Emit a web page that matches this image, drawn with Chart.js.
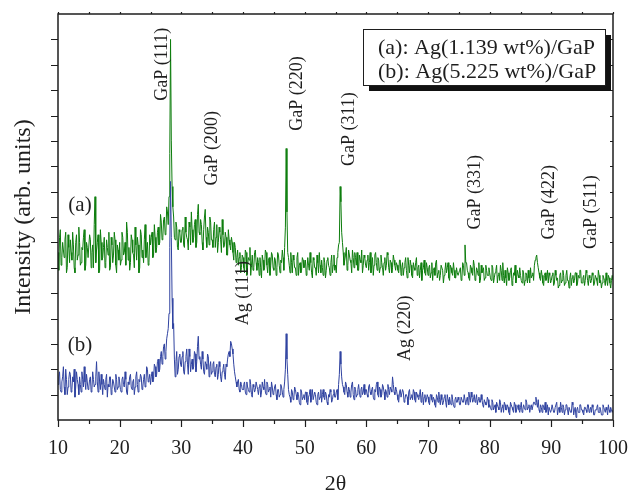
<!DOCTYPE html>
<html>
<head>
<meta charset="utf-8">
<title>XRD Ag/GaP</title>
<script src="https://cdn.jsdelivr.net/npm/chart.js@4.4.1/dist/chart.umd.min.js"></script>
<style>
  html, body { margin: 0; padding: 0; background: #fff; }
  canvas { display: block; }
</style>
</head>
<body>
<canvas id="xrdChart" width="630" height="492"></canvas>
<script>
// 2θ scan: 10° to 100°. Main readings every 0.25°, plus the in-between
// readings (10.125°, 10.375°, ...) kept in the *Mid arrays.
const angleStart = 10;
const angleStep = 0.25;

// (a) Ag(1.139 wt%)/GaP, 20 readings per row (5° per row)
const seriesA = [
  66, 72, 61, 70, 64, 74, 60, 68, 71, 63, 69, 58, 73, 65, 70, 62, 67, 75, 61, 68,
  64, 71, 66, 60, 88, 67, 73, 59, 70, 64, 72, 62, 68, 74, 60, 69, 65, 71, 58, 67,
  70, 63, 72, 66, 61, 74, 68, 62, 71, 65, 76, 63, 69, 60, 73, 67, 71, 64, 70, 62,
  69, 74, 65, 72, 68, 76, 70, 78, 72, 80, 74, 82, 88, 150, 92, 80, 71, 76, 67, 74,
  70, 76, 68, 74, 71, 78, 69, 75, 72, 79, 70, 85, 73, 77, 67, 80, 72, 76, 69, 78,
  71, 75, 68, 77, 70, 74, 66, 73, 69, 72, 65, 71, 67, 70, 63, 68, 64, 61, 66, 60,
  64, 58, 66, 61, 63, 57, 65, 60, 67, 59, 62, 64, 56, 63, 60, 66, 58, 64, 61, 65,
  59, 63, 60, 65, 58, 62, 64, 68, 107, 66, 61, 66, 58, 63, 60, 64, 57, 62, 59, 63,
  61, 57, 64, 59, 62, 56, 63, 60, 65, 58, 61, 63, 57, 62, 59, 64, 60, 62, 58, 65,
  61, 64, 69, 92, 74, 66, 63, 68, 61, 65, 62, 67, 60, 64, 66, 59, 63, 67, 61, 64,
  60, 65, 62, 58, 64, 61, 66, 59, 63, 60, 62, 57, 64, 61, 65, 58, 62, 60, 63, 59,
  61, 58, 63, 60, 57, 62, 59, 64, 58, 61, 56, 60, 62, 57, 61, 59, 55, 60, 58, 62,
  57, 61, 58, 55, 60, 62, 56, 59, 57, 61, 54, 59, 58, 62, 55, 60, 57, 59, 56, 58,
  57, 60, 56, 61, 69, 62, 58, 55, 60, 57, 61, 56, 59, 62, 55, 58, 60, 56, 59, 57,
  58, 55, 60, 56, 59, 54, 58, 61, 55, 57, 59, 53, 58, 56, 60, 55, 57, 54, 59, 56,
  57, 54, 58, 55, 57, 59, 54, 56, 58, 61, 64, 62, 58, 55, 57, 53, 58, 56, 54, 57,
  55, 58, 54, 57, 56, 53, 58, 55, 57, 54, 59, 55, 56, 53, 57, 55, 58, 54, 56, 59,
  54, 57, 55, 58, 53, 56, 55, 57, 54, 56, 53, 57, 55, 54, 56, 53, 55, 57, 54, 55,
  55
];
const seriesAMid = [
  59, 75, 64, 67, 71, 58, 73, 62, 66, 74, 60, 70, 63, 76, 61, 68, 72, 59, 70, 64,
  73, 60, 69, 77, 62, 70, 58, 75, 63, 68, 60, 71, 65, 59, 72, 62, 74, 61, 69, 63,
  61, 74, 65, 70, 78, 63, 59, 73, 66, 60, 69, 72, 58, 75, 64, 62, 77, 67, 61, 73,
  72, 64, 77, 66, 74, 69, 81, 71, 79, 73, 84, 77, 105, 110, 84, 72, 78, 68, 75, 70,
  75, 69, 80, 72, 67, 76, 82, 70, 77, 68, 81, 74, 79, 70, 75, 83, 68, 74, 80, 71,
  68, 78, 72, 66, 76, 71, 79, 68, 74, 65, 75, 69, 72, 66, 70, 62, 67, 64, 58, 65,
  60, 67, 57, 64, 68, 61, 59, 66, 62, 64, 57, 60, 65, 59, 67, 61, 63, 57, 66, 60,
  64, 57, 66, 61, 63, 67, 59, 76, 82, 64, 58, 62, 65, 60, 57, 66, 61, 58, 64, 60,
  63, 59, 61, 66, 58, 64, 60, 57, 62, 66, 58, 60, 64, 56, 63, 61, 57, 65, 61, 59,
  58, 66, 70, 86, 70, 61, 65, 59, 67, 63, 58, 64, 66, 61, 59, 65, 62, 58, 65, 61,
  63, 59, 66, 61, 57, 65, 62, 64, 58, 65, 60, 62, 59, 66, 60, 63, 58, 65, 61, 62,
  59, 63, 57, 62, 60, 64, 56, 61, 63, 57, 62, 59, 64, 60, 56, 62, 59, 63, 57, 60,
  60, 56, 62, 59, 57, 63, 58, 55, 61, 59, 57, 62, 60, 56, 61, 58, 62, 56, 60, 57,
  59, 55, 62, 57, 62, 59, 56, 61, 58, 63, 55, 60, 57, 54, 61, 59, 55, 61, 57, 60,
  56, 61, 54, 58, 61, 57, 55, 59, 62, 54, 56, 60, 55, 59, 53, 58, 61, 56, 57, 60,
  55, 59, 53, 58, 54, 56, 60, 57, 55, 63, 65, 60, 56, 59, 54, 57, 55, 59, 58, 54,
  57, 53, 59, 55, 52, 57, 54, 59, 53, 57, 55, 52, 58, 56, 54, 58, 53, 57, 59, 54,
  56, 53, 59, 55, 57, 54, 58, 53, 57, 55, 59, 54, 52, 57, 55, 58, 53, 56, 52, 57
];

// (b) Ag(5.225 wt%)/GaP
const seriesB = [
  14, 19, 11, 17, 13, 20, 10, 16, 18, 12, 15, 9, 19, 14, 17, 11, 16, 21, 12, 15,
  13, 17, 12, 16, 14, 23, 11, 15, 18, 10, 14, 16, 9, 13, 17, 12, 15, 11, 16, 13,
  15, 11, 17, 13, 16, 10, 14, 18, 12, 16, 13, 19, 11, 15, 17, 13, 18, 14, 20, 16,
  14, 19, 16, 21, 18, 24, 20, 27, 25, 30, 27, 34, 42, 94, 48, 38, 17, 27, 20, 26,
  21, 27, 18, 25, 22, 28, 19, 24, 21, 26, 23, 33, 25, 20, 24, 18, 22, 26, 17, 23,
  19, 23, 17, 22, 18, 21, 15, 20, 18, 22, 24, 27, 31, 28, 22, 17, 13, 16, 11, 14,
  12, 15, 10, 13, 11, 14, 9, 13, 12, 15, 10, 14, 11, 13, 16, 10, 14, 12, 9, 13,
  11, 14, 8, 12, 10, 13, 9, 15, 34, 18, 10, 7, 11, 9, 12, 8, 10, 6, 11, 9,
  8, 11, 6, 10, 7, 12, 8, 10, 6, 11, 9, 7, 12, 8, 10, 6, 9, 11, 8, 12,
  9, 12, 14, 27, 17, 13, 10, 14, 9, 12, 11, 15, 8, 12, 10, 14, 9, 13, 11, 10,
  12, 9, 14, 10, 13, 8, 11, 15, 9, 12, 10, 13, 8, 11, 14, 10, 12, 17, 11, 13,
  10, 7, 12, 9, 11, 8, 10, 6, 12, 9, 8, 11, 7, 10, 8, 12, 9, 6, 10, 8,
  9, 6, 10, 7, 8, 5, 9, 11, 6, 8, 7, 10, 5, 8, 9, 6, 8, 5, 9, 7,
  8, 6, 9, 7, 10, 8, 6, 9, 11, 7, 10, 8, 6, 9, 7, 8, 5, 7, 6, 8,
  6, 4, 7, 5, 3, 6, 4, 7, 5, 3, 6, 4, 5, 2, 6, 4, 7, 3, 5, 4,
  5, 3, 6, 4, 7, 5, 3, 6, 4, 7, 9, 5, 4, 6, 3, 5, 7, 4, 2, 5,
  4, 6, 3, 5, 2, 5, 7, 3, 5, 4, 6, 2, 5, 3, 6, 4, 1, 5, 3, 6,
  4, 2, 5, 3, 6, 4, 3, 5, 2, 4, 6, 3, 4, 2, 5, 3, 4, 6, 3, 4,
  4
];
const seriesBMid = [
  17, 12, 15, 21, 10, 16, 13, 19, 11, 17, 20, 13, 16, 10, 14, 19, 13, 15, 18, 12,
  16, 11, 19, 13, 17, 15, 19, 12, 14, 16, 12, 18, 14, 17, 10, 16, 13, 18, 12, 17,
  12, 16, 14, 19, 11, 15, 17, 13, 15, 10, 17, 14, 16, 18, 12, 16, 13, 21, 15, 18,
  17, 15, 22, 17, 23, 19, 25, 22, 29, 24, 32, 36, 68, 72, 36, 24, 23, 18, 25, 22,
  25, 19, 23, 28, 18, 25, 22, 20, 27, 19, 29, 24, 22, 27, 19, 23, 20, 25, 21, 18,
  22, 18, 21, 16, 23, 17, 19, 22, 16, 21, 26, 25, 30, 26, 19, 15, 15, 12, 15, 12,
  14, 11, 15, 12, 16, 10, 14, 11, 15, 12, 13, 9, 15, 12, 11, 15, 11, 13, 15, 10,
  13, 10, 12, 9, 14, 11, 12, 20, 24, 12, 9, 12, 8, 13, 10, 11, 7, 12, 8, 10,
  11, 7, 9, 12, 9, 8, 11, 7, 10, 8, 12, 10, 9, 11, 7, 10, 12, 7, 10, 9,
  11, 8, 18, 22, 14, 11, 15, 11, 13, 9, 14, 10, 13, 9, 12, 11, 12, 10, 14, 12,
  10, 13, 11, 12, 9, 12, 14, 10, 13, 9, 14, 11, 12, 9, 12, 13, 11, 14, 10, 12,
  8, 11, 9, 12, 7, 10, 9, 11, 8, 10, 12, 8, 11, 9, 10, 7, 11, 9, 7, 10,
  7, 10, 8, 9, 6, 10, 7, 8, 10, 6, 9, 7, 10, 6, 7, 10, 6, 8, 7, 9,
  6, 9, 7, 10, 6, 9, 11, 7, 9, 8, 7, 10, 8, 7, 10, 6, 8, 6, 9, 5,
  5, 8, 4, 6, 7, 5, 8, 3, 6, 7, 4, 6, 3, 7, 5, 3, 6, 4, 6, 3,
  7, 4, 5, 8, 4, 6, 5, 4, 7, 6, 7, 8, 3, 5, 6, 4, 3, 6, 5, 3,
  6, 3, 5, 7, 4, 3, 5, 6, 2, 6, 4, 5, 3, 7, 2, 5, 4, 3, 6, 4,
  3, 5, 4, 6, 3, 5, 6, 2, 4, 5, 3, 5, 2, 6, 4, 5, 2, 4, 5, 3
];

// x tick labels
const xTicks = [10, 20, 30, 40, 50, 60, 70, 80, 90, 100];

// reflection labels: text, 2θ position, height (data units) of text centre
const peakNames = ["GaP (111)", "GaP (200)", "GaP (220)", "GaP (311)", "GaP (331)", "GaP (422)", "GaP (511)", "Ag (111)", "Ag (220)"];
const peakAngles = [26.86, 34.97, 48.76, 57.19, 77.62, 89.62, 96.43, 40.0, 66.27];
const peakLabelY = [140.2, 107.1, 128.7, 114.6, 89.8, 85.8, 81.9, 50.0, 36.2];

const legendLines = ["(a): Ag(1.139 wt%)/GaP", "(b): Ag(5.225 wt%)/GaP"];

const serif = "'Liberation Serif', 'Times New Roman', serif";
const ink = "#1e1e1e";

// weave the main and in-between readings into one {x, y} list
function toPoints(main, mid) {
  const pts = [];
  main.forEach((v, i) => {
    const x = angleStart + i * angleStep;
    pts.push({ x: x, y: v });
    if (i < mid.length) pts.push({ x: x + angleStep / 2, y: mid[i] });
  });
  return pts;
}

// frame, tick marks, peak names, curve tags and the boxed key
const decorations = {
  id: "decorations",
  afterDraw(chart) {
    const { ctx, chartArea: a, scales } = chart;
    const xs = scales.x, ys = scales.y;
    ctx.save();
    ctx.strokeStyle = ink;
    ctx.lineWidth = 1.5;
    ctx.strokeRect(a.left, a.top, a.right - a.left, a.bottom - a.top);

    ctx.lineWidth = 1.2;
    ctx.beginPath();
    for (let t = 10; t <= 100; t += 5) {
      const px = Math.round(xs.getPixelForValue(t)) + 0.5;
      const len = t % 10 === 0 ? 7 : 4;
      ctx.moveTo(px, a.bottom);
      ctx.lineTo(px, a.bottom + len);
      ctx.moveTo(px, a.top);
      ctx.lineTo(px, a.top - 2);
    }
    for (let v = 10; v < 160; v += 10) {
      const py = Math.round(ys.getPixelForValue(v)) + 0.5;
      ctx.moveTo(a.left, py);
      ctx.lineTo(a.left - 7, py);
      ctx.moveTo(a.right, py);
      ctx.lineTo(a.right - 3, py);
    }
    ctx.stroke();

    // reflection names, read upwards
    ctx.fillStyle = ink;
    ctx.font = "18px " + serif;
    ctx.textAlign = "center";
    ctx.textBaseline = "middle";
    peakNames.forEach((name, i) => {
      ctx.save();
      ctx.translate(xs.getPixelForValue(peakAngles[i]), ys.getPixelForValue(peakLabelY[i]));
      ctx.rotate(-Math.PI / 2);
      ctx.fillText(name, 0, 0);
      ctx.restore();
    });

    // curve tags
    ctx.font = "21px " + serif;
    ctx.fillText("(a)", xs.getPixelForValue(13.57), ys.getPixelForValue(84.6));
    ctx.fillText("(b)", xs.getPixelForValue(13.57), ys.getPixelForValue(29.5));

    // key box with drop shadow
    const bx = a.right - 250, by = a.top + 15, bw = 242, bh = 56;
    ctx.fillStyle = "#111";
    ctx.fillRect(bx + 6, by + 6, bw, bh);
    ctx.fillStyle = "#fff";
    ctx.fillRect(bx, by, bw, bh);
    ctx.lineWidth = 1;
    ctx.strokeStyle = ink;
    ctx.strokeRect(bx + 0.5, by + 0.5, bw, bh);
    ctx.fillStyle = ink;
    ctx.font = "22px " + serif;
    ctx.textAlign = "left";
    legendLines.forEach((line, i) => {
      ctx.fillText(line, bx + 15, by + 19 + i * 24);
    });
    ctx.restore();
  }
};

new Chart(document.getElementById("xrdChart"), {
  type: "line",
  data: {
    datasets: [
      {
        label: "(b)",
        data: toPoints(seriesB, seriesBMid),
        borderColor: "#2f42a0",
        borderWidth: 1,
        pointRadius: 0,
        tension: 0,
        order: 0,
      },
      {
        label: "(a)",
        data: toPoints(seriesA, seriesAMid),
        borderColor: "#0d7d0d",
        borderWidth: 1,
        pointRadius: 0,
        tension: 0,
        order: 1,
      },
    ],
  },
  options: {
    responsive: false,
    animation: false,
    devicePixelRatio: 1,
    layout: { padding: { left: 0, top: 14, right: 17, bottom: 0 } },
    plugins: { legend: { display: false }, tooltip: { enabled: false } },
    scales: {
      x: {
        type: "linear",
        min: 10,
        max: 100,
        afterFit: (s) => {
          s.height = 72;
          // let the "100" label hang past the frame instead of shrinking the plot
          s.paddingLeft = 0;
          s.paddingRight = 0;
        },
        afterBuildTicks: (s) => { s.ticks = xTicks.map((v) => ({ value: v })); },
        grid: { display: false, drawTicks: false },
        border: { display: false },
        ticks: {
          padding: 17,
          maxRotation: 0,
          color: ink,
          font: { family: serif, size: 20 },
        },
        title: {
          display: true,
          text: "2θ",
          color: ink,
          font: { family: serif, size: 22, lineHeight: 1 },
          padding: { top: 0, bottom: -3 },
        },
      },
      y: {
        min: 0,
        max: 160,
        afterFit: (s) => { s.width = 58; },
        grid: { display: false, drawTicks: false },
        border: { display: false },
        ticks: { display: false },
        title: {
          display: true,
          text: "Intensity (arb. units)",
          color: ink,
          font: { family: serif, size: 24 },
          padding: { top: 9, bottom: 0 },
        },
      },
    },
  },
  plugins: [decorations],
});
</script>
</body>
</html>
